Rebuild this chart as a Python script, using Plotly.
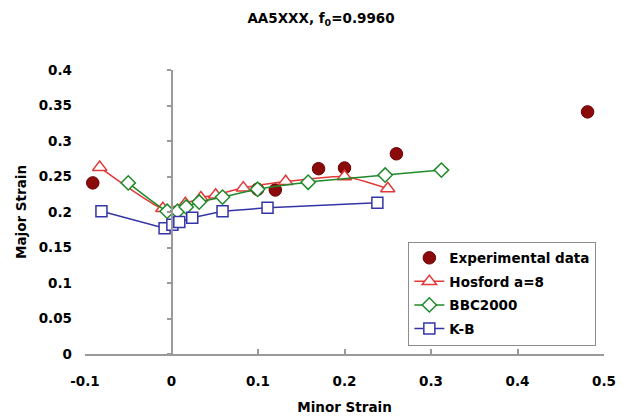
import plotly.graph_objects as go

# Forming limit data: minor strain (x) vs major strain (y)
exp_minor = [-0.091, 0.0995, 0.120, 0.170, 0.200, 0.260, 0.481]
exp_major = [0.241, 0.232, 0.231, 0.261, 0.262, 0.282, 0.341]

hosford_minor = [-0.083, -0.010, 0.016, 0.034, 0.051, 0.083, 0.132, 0.200, 0.250]
hosford_major = [0.263, 0.205, 0.212, 0.220, 0.224, 0.234, 0.243, 0.250, 0.233]

bbc_minor = [-0.050, -0.005, 0.007, 0.017, 0.032, 0.059, 0.0995, 0.158, 0.247, 0.312]
bbc_major = [0.241, 0.201, 0.201, 0.207, 0.214, 0.221, 0.232, 0.242, 0.252, 0.259]

kb_minor = [-0.081, -0.008, 0.001, 0.009, 0.024, 0.059, 0.111, 0.238]
kb_major = [0.201, 0.177, 0.182, 0.186, 0.192, 0.201, 0.206, 0.213]

x_range = [-0.1, 0.5]
y_range = [0.0, 0.4]
y_ticks = [0, 0.05, 0.1, 0.15, 0.2, 0.25, 0.3, 0.35, 0.4]
y_tick_text = ["0", "0.05", "0.1", "0.15", "0.2", "0.25", "0.3", "0.35", "0.4"]
x_ticks = [-0.1, 0, 0.1, 0.2, 0.3, 0.4, 0.5]
x_tick_text = ["-0.1", "0", "0.1", "0.2", "0.3", "0.4", "0.5"]

FONT = "DejaVu Sans, Arial, sans-serif"
AXIS_GREY = "#9a9a9a"
bold = dict(family=FONT, size=13.5, color="black", weight="bold")

fig = go.Figure()

fig.add_trace(go.Scatter(
    x=exp_minor, y=exp_major, mode="markers", name="Experimental data",
    legendgroup="exp",
    marker=dict(symbol="circle", size=12.5, color="#8b0a0a",
                line=dict(color="#6a0000", width=1)),
))
fig.add_trace(go.Scatter(
    x=hosford_minor, y=hosford_major, mode="lines+markers", name="Hosford a=8",
    legendgroup="hosford",
    line=dict(color="#e0393a", width=1.5, shape="spline", smoothing=0.5),
    marker=dict(symbol="triangle-up", size=12.5, color="white",
                line=dict(color="#e0393a", width=1.5)),
))
fig.add_trace(go.Scatter(
    x=bbc_minor, y=bbc_major, mode="lines+markers", name="BBC2000",
    legendgroup="bbc",
    line=dict(color="#1f8a2a", width=1.5, shape="spline", smoothing=0.5),
    marker=dict(symbol="diamond", size=11, color="white",
                line=dict(color="#1f8a2a", width=1.5)),
))
fig.add_trace(go.Scatter(
    x=kb_minor, y=kb_major, mode="lines+markers", name="K-B",
    legendgroup="kb",
    line=dict(color="#3434a8", width=1.5),
    marker=dict(symbol="square", size=11, color="white",
                line=dict(color="#3434a8", width=1.5)),
))

# Hidden trace that carries the vertical axis crossing at x = 0
fig.add_trace(go.Scatter(
    x=[None], y=[None], yaxis="y2", showlegend=False, hoverinfo="skip",
))

fig.update_layout(
    width=628, height=419,
    margin=dict(l=85, r=24, t=70, b=65),
    paper_bgcolor="white", plot_bgcolor="white",
    title=dict(text="AA5XXX, f<sub>0</sub>=0.9960", x=321 / 628, xref="container",
               xanchor="center", y=1 - 18 / 419, yanchor="middle",
               font=dict(family=FONT, size=13.5, color="black", weight="bold")),
    showlegend=True,
    legend=dict(
        x=0.623, y=0.396, xanchor="left", yanchor="top",
        bgcolor="white", bordercolor="#8c8c8c", borderwidth=1,
        font=bold, traceorder="grouped", tracegroupgap=3,
    ),
    xaxis=dict(
        range=x_range, tickvals=x_ticks, ticktext=x_tick_text,
        showgrid=False, zeroline=False, automargin=False,
        showline=True, linecolor=AXIS_GREY, linewidth=1.5,
        ticks="inside", ticklen=5, tickcolor=AXIS_GREY, tickwidth=1.5,
        tickfont=bold, ticklabelstandoff=14,
        title=dict(text="Minor Strain", font=bold, standoff=15),
    ),
    yaxis=dict(
        range=y_range, tickvals=y_ticks, ticktext=y_tick_text,
        showgrid=False, zeroline=False, showline=False, ticks="",
        automargin=False,
        tickfont=bold, ticklabelstandoff=12,
        title=dict(text="Major Strain", font=bold, standoff=8),
    ),
    yaxis2=dict(
        range=y_range, tickvals=y_ticks, overlaying="y", anchor="free",
        position=(0 - x_range[0]) / (x_range[1] - x_range[0]),
        showgrid=False, zeroline=False, showticklabels=False,
        automargin=False,
        showline=True, linecolor=AXIS_GREY, linewidth=1.5,
        ticks="outside", ticklen=4, tickcolor=AXIS_GREY, tickwidth=1.5,
    ),
)

fig.write_html("out.html")
